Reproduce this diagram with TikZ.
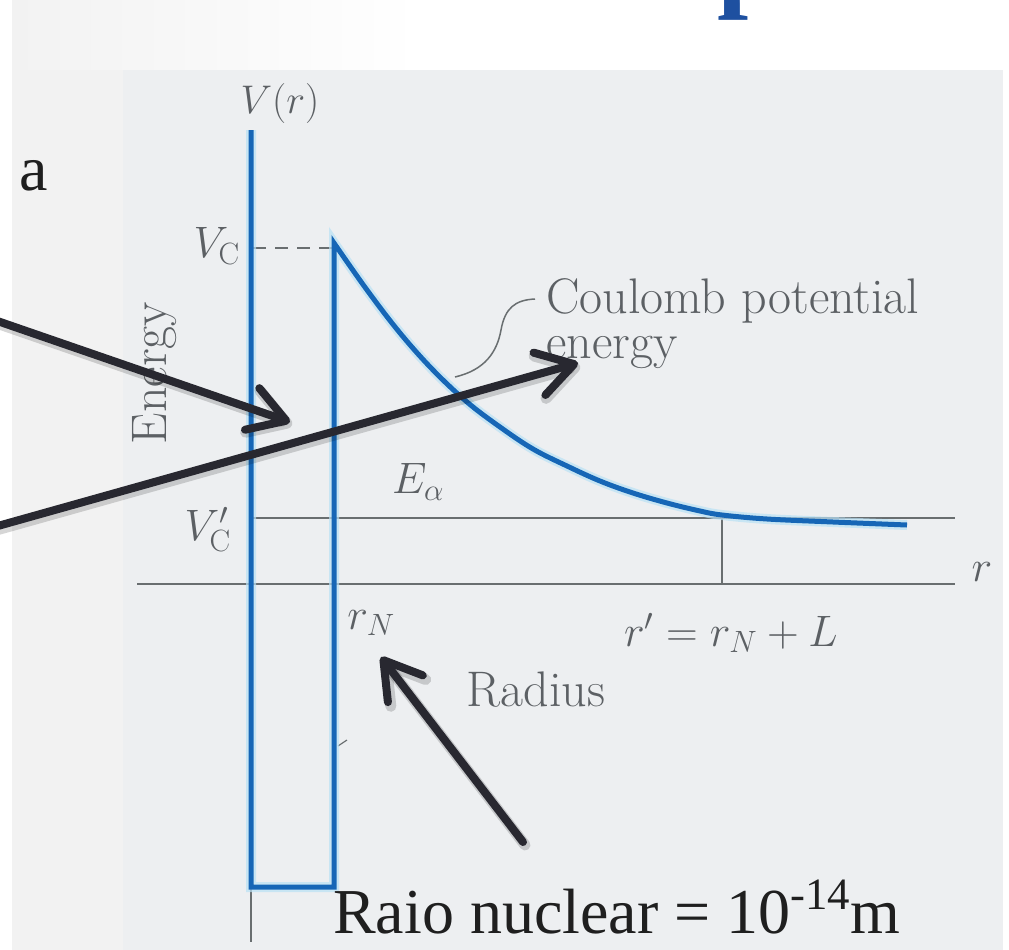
\RequirePackage{fix-cm}
\documentclass[tikz,border=0pt]{standalone}
\usepackage{fontspec}
\newfontfamily\slidefont{Liberation Serif}
\usetikzlibrary{arrows.meta}
\definecolor{bluecurve}{RGB}{22,102,182}
\definecolor{bluehalo}{RGB}{185,225,245}
\definecolor{labelgray}{RGB}{92,96,100}
\definecolor{axisgray}{RGB}{105,110,112}
\definecolor{arrowdark}{RGB}{40,40,48}
\definecolor{panelgray}{RGB}{237,239,241}
\definecolor{sidegray}{RGB}{242,242,242}
\definecolor{titleblue}{RGB}{30,80,160}
\begin{document}
\begin{tikzpicture}[x=1pt,y=-1pt,
  lbl/.style={text=labelgray, inner sep=0pt, font=\fontsize{44}{52}\selectfont},
  wlbl/.style={lbl, font=\fontsize{50}{58}\selectfont},
  pot/.style={draw=bluecurve, line width=5pt, line join=miter},
  halo/.style={draw=bluehalo, line width=10pt, opacity=0.7},
  thinline/.style={draw=axisgray, line width=1.9pt},
  pointer/.style={draw=arrowdark, line width=8pt, line cap=round, -{Straight Barb[length=36pt,width=44pt,round]}},
  pshadow/.style={draw=black, opacity=0.16, line width=11pt, line cap=round, -{Straight Barb[length=36pt,width=44pt,round]}},
  slide/.style={inner sep=0pt, font=\slidefont\fontsize{64}{76}\selectfont, text=black!88}
]
\useasboundingbox (0,0) rectangle (1009,950);
% background
\fill[white] (0,0) rectangle (1009,950);
\shade[left color=sidegray, right color=white] (12,0) rectangle (420,70);
\fill[sidegray] (12,70) rectangle (123,950);
\fill[panelgray] (123,70) rectangle (1003,950);
% partial title glyph (only its descender lies inside the picture)
\node[font=\slidefont\bfseries\fontsize{112}{130}\selectfont, text=titleblue, anchor=base west, inner sep=0pt] (ttl) at (717,-3) {p};
% coordinates
\coordinate (Ltop) at (251,130);
\coordinate (Lbot) at (251,887);
\coordinate (Rbot) at (334,887);
\coordinate (Peak) at (334,243);
\coordinate (Tang) at (722,518);
\coordinate (Tfoot) at (722,584);
\coordinate (Vcl) at (251,518);
\coordinate (Vcr) at (955,518);
\coordinate (Ral) at (137,584);
\coordinate (Rar) at (955,584);
\coordinate (Dl) at (253,248);
\coordinate (Dr) at (332,248);
\coordinate (Sub) at (251,942);
\coordinate (Cpt) at (455,377);
\coordinate (Cend) at (535,299);
% thin gray lines
\draw[thinline] (Vcl) -- (Vcr);
\draw[thinline] (Ral) -- (Rar);
\draw[thinline] (Tang) -- (Tfoot);
\draw[thinline] (Lbot) -- (Sub);
\draw[thinline, dash pattern=on 13pt off 9pt] (Dl) -- (Dr);
\draw[thinline, line width=1.2pt] (338,746) -- (347,740);
% potential
\path[halo] (Ltop) -- (Lbot) -- (Rbot) -- (Peak) -- plot[smooth, tension=0.6] coordinates {(334,243) (367,290) (400,333) (433,370) (467,402) (500,427) (533,449) (567,466) (600,481) (633,493) (667,503) (700,511) (722,515) (767,519) (833,522) (907,525)};
\draw[pot] (Ltop) -- (Lbot) -- (Rbot) -- (Peak) -- plot[smooth, tension=0.6] coordinates {(334,243) (367,290) (400,333) (433,370) (467,402) (500,427) (533,449) (567,466) (600,481) (633,493) (667,503) (700,511) (722,515) (767,519) (833,522) (907,525)};
% labels
\node[lbl, font=\fontsize{40}{48}\selectfont] (Vr) at (280,104) {$V(r)$};
\node[lbl, anchor=east] (Vc) at (240,246) {$V_{\mathrm{C}}$};
\node[lbl, anchor=east] (Vcp) at (231,530) {$V'_{\mathrm{C}}$};
\node[wlbl, rotate=90] (En) at (155,373) {Energy};
\node[wlbl, anchor=base west] (Coul1) at (546,313) {Coulomb potential};
\node[wlbl, anchor=base west] (Coul2) at (546,358) {energy};
\node[lbl] (Ea) at (418,482) {$E_\alpha$};
\node[lbl] (rN) at (371,623) {$r_N$};
\node[lbl] (rp) at (731,633) {$r' = r_N + L$};
\node[wlbl] (Rad) at (536,690) {Radius};
\node[lbl] (rax) at (982,572) {$r$};
% leader
\draw[thinline, line width=1.5pt] (Cpt) .. controls (485,370) and (497,352) .. (501,330) .. controls (505,308) and (515,300) .. (Cend);
% slide texts
\node[slide, anchor=base west] (aa) at (19,190) {a};
\node[slide, anchor=base west] (Raio) at (333,933) {Raio nuclear = 10\textsuperscript{-14}m};
% pointer arrows
\coordinate (A1s) at (-20,315);
\coordinate (A1e) at (290,422);
\coordinate (A2s) at (-20,531);
\coordinate (A2e) at (578,363);
\coordinate (A3s) at (523,842);
\coordinate (A3e) at (381,657);
\begin{scope}[transform canvas={shift={(2,3)}}]
\draw[pshadow] (A1s) -- (A1e);
\draw[pshadow] (A2s) -- (A2e);
\draw[pshadow] (A3s) -- (A3e);
\end{scope}
\draw[pointer] (A1s) -- (A1e);
\draw[pointer] (A2s) -- (A2e);
\draw[pointer] (A3s) -- (A3e);
\end{tikzpicture}
\end{document}
